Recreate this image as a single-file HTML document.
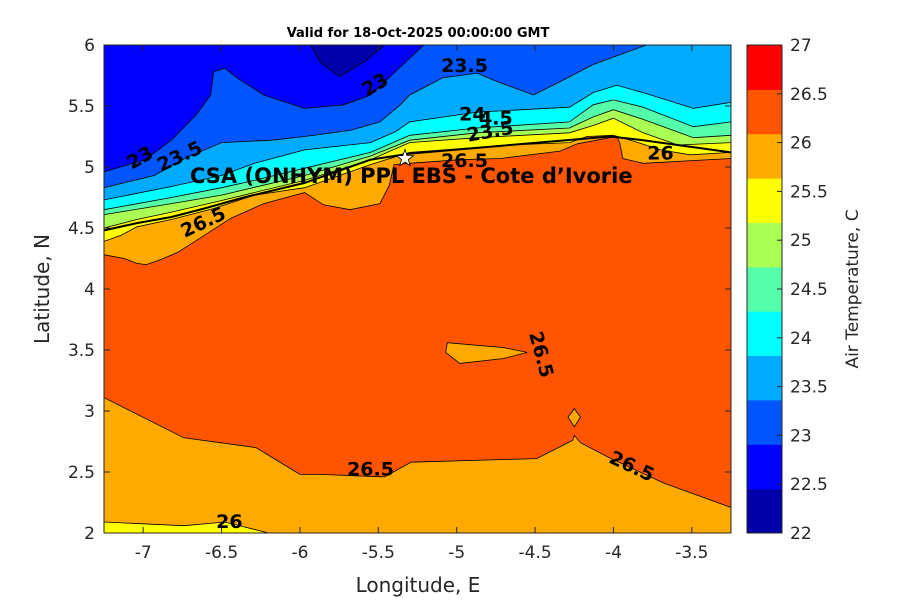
<!DOCTYPE html>
<html><head><meta charset="utf-8"><style>
body{margin:0;background:#fff;}
svg text{font-family:"DejaVu Sans","Liberation Sans",sans-serif;}
</style></head><body>
<svg id="chart" width="900" height="600" xmlns="http://www.w3.org/2000/svg">
<defs><clipPath id="pc"><rect x="104" y="45" width="627" height="488"/></clipPath></defs>
<rect width="900" height="600" fill="#fff"/>
<g id="plot" clip-path="url(#pc)"></g>
<g id="labels"></g>
<rect x="104" y="45" width="627" height="488" fill="none" stroke="#262626" stroke-width="1"/>
<g id="axes"></g>
<text x="418" y="37" text-anchor="middle" font-size="13" font-weight="bold">Valid for 18-Oct-2025 00:00:00 GMT</text>
<text x="418" y="592" text-anchor="middle" font-size="20" fill="#262626">Longitude, E</text>
<text transform="translate(49,289) rotate(-90)" text-anchor="middle" font-size="20" fill="#262626">Latitude, N</text>
<text transform="translate(858,289) rotate(-90)" text-anchor="middle" font-size="17" fill="#262626">Air Temperature, C</text>
<g id="cbar"></g>
</svg>
<script>
const xTicks=[-7,-6.5,-6,-5.5,-5,-4.5,-4,-3.5];
const yTicks=[2,2.5,3,3.5,4,4.5,5,5.5,6];
const cbTicks=[22,22.5,23,23.5,24,24.5,25,25.5,26,26.5,27];
const cbColors=["#0000aa","#0000ff","#0055ff","#00aaff","#00ffff","#55ffaa","#aaff55","#ffff00","#ffaa00","#ff5500","#ff0000"];
const L23=[[-7.25,4.96],[-6.99,5.06],[-6.82,5.22],[-6.66,5.43],[-6.57,5.59],[-6.55,5.78],[-6.48,5.81],[-6.40,5.73],[-6.23,5.59],[-5.97,5.48],[-5.72,5.51],[-5.55,5.59],[-5.21,6.0]];
const blob22=[[-5.93,6],[-5.87,5.86],[-5.75,5.74],[-5.59,5.86],[-5.46,6]];
const L235=[[-7.25,4.83],[-6.93,4.93],[-6.72,5.08],[-6.50,5.20],[-6.18,5.22],[-5.97,5.25],[-5.68,5.30],[-5.49,5.37],[-5.36,5.51],[-5.30,5.59],[-5.09,5.73],[-4.87,5.77],[-4.74,5.70],[-4.51,5.59],[-4.34,5.70],[-4.13,5.84],[-3.79,6.0]];
const L24=[[-7.25,4.73],[-6.82,4.84],[-6.50,4.93],[-6.29,5.03],[-5.97,5.14],[-5.55,5.20],[-5.39,5.29],[-5.30,5.37],[-4.87,5.45],[-4.28,5.49],[-4.13,5.61],[-3.98,5.67],[-3.81,5.61],[-3.49,5.48],[-3.25,5.53]];
const L245=[[-7.25,4.65],[-6.82,4.75],[-6.50,4.83],[-6.29,4.89],[-5.97,4.99],[-5.55,5.12],[-5.30,5.26],[-4.87,5.32],[-4.28,5.37],[-4.13,5.51],[-4.00,5.55],[-3.81,5.49],[-3.49,5.33],[-3.25,5.37]];
const L25=[[-7.25,4.61],[-6.82,4.70],[-6.50,4.77],[-5.97,4.93],[-5.55,5.09],[-5.30,5.22],[-4.87,5.28],[-4.28,5.32],[-4.13,5.41],[-4.00,5.47],[-3.81,5.39],[-3.49,5.24],[-3.25,5.26]];
const L255=[[-7.25,4.50],[-7.04,4.57],[-6.82,4.63],[-6.55,4.71],[-5.97,4.89],[-5.55,5.06],[-5.30,5.20],[-4.87,5.24],[-4.28,5.28],[-4.13,5.34],[-4.00,5.40],[-3.81,5.28],[-3.59,5.18],[-3.25,5.20]];
const L26=[[-7.25,4.39],[-7.14,4.44],[-7.04,4.51],[-6.82,4.57],[-6.55,4.66],[-6.29,4.77],[-5.97,4.83],[-5.55,5.02],[-5.30,5.12],[-4.66,5.18],[-4.28,5.20],[-4.17,5.25],[-4.00,5.26],[-3.89,5.22],[-3.70,5.14],[-3.51,5.10],[-3.25,5.12]];
const redTop=[[-7.25,4.28],[-7.12,4.25],[-7.04,4.21],[-6.98,4.20],[-6.89,4.24],[-6.78,4.30],[-6.44,4.58],[-6.23,4.70],[-5.97,4.79],[-5.85,4.69],[-5.68,4.65],[-5.49,4.70],[-5.43,4.85],[-5.40,5.02],[-5.30,5.03],[-4.98,5.06],[-4.72,5.07],[-4.34,5.13],[-4.23,5.19],[-3.98,5.25],[-3.96,5.20],[-3.94,5.07],[-3.81,5.03],[-3.25,5.07]];
const redBottom=[[-7.25,3.11],[-6.74,2.78],[-6.28,2.70],[-6.00,2.48],[-5.87,2.48],[-5.46,2.46],[-5.29,2.58],[-4.49,2.61],[-4.26,2.76],[-4.25,2.80],[-4.21,2.74],[-4.03,2.62],[-3.68,2.41],[-3.25,2.21]];
const blobA=[[-5.06,3.56],[-4.70,3.52],[-4.55,3.48],[-4.70,3.43],[-4.98,3.39],[-5.07,3.48]];
const blobB=[[-4.25,3.02],[-4.21,2.95],[-4.25,2.87],[-4.29,2.95]];
const yellowBottom=[[-7.25,2.09],[-6.74,2.06],[-6.48,2.09],[-6.20,2.0]];
const coast=[[-7.25,4.48],[-7.04,4.54],[-6.82,4.59],[-6.61,4.66],[-6.36,4.75],[-5.97,4.87],[-5.55,5.06],[-5.30,5.11],[-4.66,5.18],[-4.02,5.25],[-3.81,5.22],[-3.25,5.12]];
const labelText=["23","23.5","23","23.5","24","4.5","23.5","26.5","26.5","26","26.5","26.5","26.5","26"];
const labelPos=[[-7.0,5.03],[-6.75,5.04],[-5.5,5.63],[-4.95,5.78],[-4.9,5.38],[-4.75,5.35],[-4.78,5.24],[-6.6,4.5],[-4.95,5.0],[-3.7,5.06],[-4.5,3.45],[-5.55,2.47],[-3.9,2.5],[-6.45,2.04]];
const labelRot=[-30,-25,-30,0,0,0,-10,-25,0,0,75,0,25,0];
const station=[-5.33,5.07];
const stationName="CSA (ONHYM) PPL EBS - Cote d\u2019Ivorie";

const NS="http://www.w3.org/2000/svg";
const X0=104,X1=731,Y0=533,Y1=45;
function xs(v){return X0+(v+7.25)/4*(X1-X0);}
function ys(v){return Y0-(v-2)/4*(Y0-Y1);}
function pts(a){return a.map(p=>xs(p[0]).toFixed(1)+","+ys(p[1]).toFixed(1)).join(" ");}
const plot=document.getElementById("plot");
function mk(tag,attrs,parent){const e=document.createElementNS(NS,tag);for(const k in attrs)e.setAttribute(k,attrs[k]);parent.appendChild(e);return e;}
let e=mk("rect",{x:X0,y:Y1,width:X1-X0,height:Y0-Y1,fill:"#0000ff"},plot);


e=mk("polygon",{points:pts(blob22),fill:"#0000aa",stroke:"#000","stroke-width":0.8},plot);


const tr=[[-3.25,6],[-3.25,2],[-7.25,2]], br=[[-3.25,2],[-7.25,2]];
const layers=[[L23,tr,"#0055ff","band-23-23.5"],[L235,tr,"#00aaff","band-23.5-24"],[L24,br,"#00ffff","band-24-24.5"],[L245,br,"#55ffaa","band-24.5-25"],[L25,br,"#aaff55","band-25-25.5"],[L255,br,"#ffff00","band-25.5-26"],[L26,br,"#ffaa00","band-26-26.5"]];
layers.forEach(l=>{
  e=mk("polygon",{points:pts(l[0].concat(l[1])),fill:l[2]},plot);
  
  
  e=mk("polyline",{points:pts(l[0]),fill:"none",stroke:"#000","stroke-width":0.8},plot);
  
  
});
e=mk("polygon",{points:pts(redTop.concat(redBottom.slice().reverse())),fill:"#ff5500",stroke:"#000","stroke-width":0.8},plot);


[blobA,blobB].forEach(b=>{
  e=mk("polygon",{points:pts(b),fill:"#ffaa00",stroke:"#000","stroke-width":0.8},plot);
  
  
});
e=mk("polygon",{points:pts(yellowBottom.concat([[-7.25,2]])),fill:"#ffff00",stroke:"#000","stroke-width":0.8},plot);


e=mk("polyline",{points:pts(coast),fill:"none",stroke:"#000","stroke-width":2},plot);



const lab=document.getElementById("labels");
labelText.forEach((t,i)=>{
  const x=xs(labelPos[i][0]),y=ys(labelPos[i][1]);
  const el=mk("text",{transform:`translate(${x.toFixed(1)},${y.toFixed(1)}) rotate(${labelRot[i]})`,"text-anchor":"middle","font-size":19,"font-weight":"bold",fill:"#000"},lab);
  el.textContent=t;
  
  
});
e=mk("text",{x:190,y:183,"font-size":21,"font-weight":"bold",fill:"#000"},lab);
e.textContent=stationName;


const sx=xs(station[0]),sy=ys(station[1]);
let sp=[];for(let k=0;k<10;k++){const r=k%2?3.5:9,a=-Math.PI/2+k*Math.PI/5;sp.push((sx+r*Math.cos(a)).toFixed(1)+","+(sy+r*Math.sin(a)).toFixed(1));}
e=mk("polygon",{points:sp.join(" "),fill:"#fff",stroke:"#000","stroke-width":0.8},lab);



const ax=document.getElementById("axes");
xTicks.forEach(v=>{
  const x=xs(v);
  e=mk("line",{x1:x,x2:x,y1:Y0,y2:Y0-6,stroke:"#262626"},ax);
  
  
  e=mk("line",{x1:x,x2:x,y1:Y1,y2:Y1+6,stroke:"#262626"},ax);
  
  
  e=mk("text",{x:x,y:Y0+25,"text-anchor":"middle","font-size":17,fill:"#262626"},ax);
  e.textContent=String(v);
  
  
});
yTicks.forEach(v=>{
  const y=ys(v);
  e=mk("line",{x1:X0,x2:X0+6,y1:y,y2:y,stroke:"#262626"},ax);
  
  
  e=mk("line",{x1:X1,x2:X1-6,y1:y,y2:y,stroke:"#262626"},ax);
  
  
  e=mk("text",{x:X0-9,y:y+6,"text-anchor":"end","font-size":17,fill:"#262626"},ax);
  e.textContent=String(v);
  
  
});
const cb=document.getElementById("cbar");
const CX=747,CW=35,n=cbColors.length,bh=(Y0-Y1)/n;
cbColors.forEach((c,i)=>{
  e=mk("rect",{x:CX,y:Y0-(i+1)*bh,width:CW,height:bh+0.5,fill:c},cb);
  
  
});
e=mk("rect",{x:CX,y:Y1,width:CW,height:Y0-Y1,fill:"none",stroke:"#262626"},cb);


cbTicks.forEach(v=>{
  const y=Y0-(v-22)/5*(Y0-Y1);
  e=mk("line",{x1:CX+CW-5,x2:CX+CW,y1:y,y2:y,stroke:"#262626"},cb);
  
  
  e=mk("text",{x:CX+CW+8,y:y+6,"font-size":17,fill:"#262626"},cb);
  e.textContent=String(v);
  
  
});
</script>
</body></html>
